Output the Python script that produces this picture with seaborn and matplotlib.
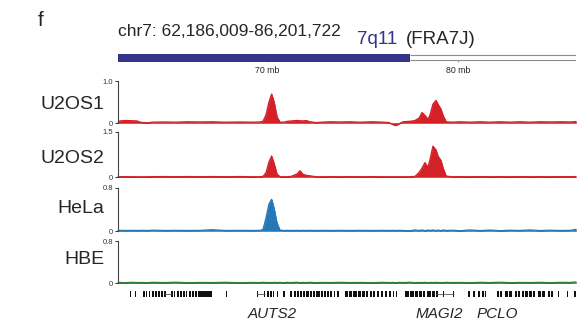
import matplotlib
matplotlib.use("Agg")
import numpy as np
import pandas as pd
import matplotlib.pyplot as plt
import seaborn as sns

# region shown (mb)
region_start = 62.186009
region_end = 86.201722
band_start = 62.186009
band_end = 77.5          # end of 7q11 band
ruler_ticks = [70, 80]
ruler_labels = ["70 mb", "80 mb"]

# sample positions along chr7 (mb)
pos_mb = [62.19, 62.29, 62.55, 62.92, 63.18, 63.39, 63.76, 63.97, 64.65, 65.17,
          65.86, 66.49, 67.11, 67.80, 68.58, 69.21, 69.63, 69.79, 69.95, 70.10,
          70.24, 70.37, 70.52, 70.68, 70.89, 71.05, 71.26, 71.57, 71.73, 71.89,
          72.04, 72.25, 72.57, 72.88, 73.30, 73.83, 74.35, 74.88, 75.50, 76.08,
          76.40, 76.61, 76.76, 76.92, 77.13, 77.50, 77.76, 77.97, 78.13, 78.28,
          78.44, 78.55, 78.70, 78.86, 78.96, 79.12, 79.23, 79.39, 79.70, 80.12,
          80.64, 81.17, 81.69, 82.22, 82.74, 83.26, 83.79, 84.31, 84.84, 85.36,
          85.89, 86.20]

u2os1 = [0.02, 0.05, 0.06, 0.055, 0.05, 0.015, 0.005, 0.02, 0.025, 0.02,
         0.03, 0.025, 0.03, 0.02, 0.025, 0.02, 0.025, 0.04, 0.2, 0.5,
         0.69, 0.5, 0.15, 0.02, 0.02, 0.04, 0.05, 0.06, 0.055, 0.05,
         0.06, 0.03, 0.01, 0.02, 0.03, 0.025, 0.03, 0.02, 0.03, 0.02,
         0.01, -0.04, -0.06, -0.02, 0.03, 0.04, 0.06, 0.12, 0.25, 0.18,
         0.09, 0.2, 0.45, 0.54, 0.45, 0.33, 0.18, 0.03, 0.02, 0.03,
         0.02, 0.03, 0.02, 0.03, 0.02, 0.03, 0.02, 0.03, 0.025, 0.03,
         0.025, 0.035]

u2os2 = [0.01, 0.01, 0.012, 0.01, 0.01, 0.008, 0.01, 0.012, 0.015, 0.01,
         0.015, 0.01, 0.015, 0.01, 0.015, 0.01, 0.01, 0.02, 0.15, 0.5,
         0.7, 0.45, 0.1, 0.01, 0.01, 0.01, 0.02, 0.1, 0.21, 0.09,
         0.06, 0.04, 0.01, 0.01, 0.012, 0.01, 0.012, 0.01, 0.012, 0.01,
         0.01, 0.01, 0.01, 0.01, 0.01, 0.01, 0.02, 0.15, 0.3, 0.48,
         0.32, 0.6, 1.03, 0.9, 0.7, 0.55, 0.3, 0.03, 0.01, 0.012,
         0.01, 0.012, 0.01, 0.012, 0.01, 0.012, 0.01, 0.012, 0.01, 0.012,
         0.01, 0.015]

hela = [0.01, 0.012, 0.01, 0.012, 0.01, 0.012, 0.01, 0.015, 0.01, 0.012,
        0.01, 0.012, 0.025, 0.01, 0.012, 0.01, 0.012, 0.03, 0.25, 0.5,
        0.59, 0.42, 0.15, 0.015, 0.01, 0.012, 0.01, 0.012, 0.01, 0.012,
        0.01, 0.012, 0.01, 0.012, 0.01, 0.012, 0.01, 0.012, 0.01, 0.012,
        0.01, 0.012, 0.01, 0.012, 0.01, 0.005, 0.02, 0.008, 0.02, 0.006,
        0.018, 0.01, 0.02, 0.008, 0.018, 0.006, 0.02, 0.01, 0.015, 0.005,
        0.02, 0.008, 0.018, 0.006, 0.015, 0.01, 0.02, 0.008, 0.015, 0.01,
        0.012, 0.03]

hbe = [0.008, 0.01, 0.006, 0.012, 0.008, 0.01, 0.006, 0.012, 0.008, 0.014,
       0.006, 0.01, 0.008, 0.012, 0.006, 0.01, 0.008, 0.012, 0.008, 0.01,
       0.006, 0.012, 0.008, 0.01, 0.006, 0.012, 0.008, 0.014, 0.006, 0.01,
       0.008, 0.012, 0.006, 0.01, 0.008, 0.012, 0.008, 0.01, 0.006, 0.012,
       0.008, 0.01, 0.006, 0.012, 0.008, 0.014, 0.006, 0.01, 0.008, 0.012,
       0.006, 0.01, 0.008, 0.012, 0.008, 0.01, 0.006, 0.012, 0.008, 0.01,
       0.006, 0.012, 0.008, 0.014, 0.006, 0.01, 0.008, 0.012, 0.006, 0.012,
       0.01, 0.02]

track_names = ["U2OS1", "U2OS2", "HeLa", "HBE"]
track_values = [u2os1, u2os2, hela, hbe]
track_ymax = [1.0, 1.5, 0.8, 0.8]
track_toplabels = ["1.0", "1.5", "0.8", "0.8"]
track_colors = ["#d42027", "#d42027", "#2478b8", "#2e7b3a"]

# RefSeq features (start mb, width mb)
gene_starts = [62.82, 63.08, 63.50, 63.65, 63.81, 63.97, 64.13, 64.28, 64.44, 64.60,
               64.97, 65.12, 65.28, 65.44, 65.59, 65.75, 65.91, 66.07, 66.22, 66.38,
               66.54, 66.75, 66.96, 67.85, 69.47, 69.84, 70.00, 70.16, 70.31, 70.52,
               70.84, 71.21, 71.42, 71.57, 71.73, 71.89, 72.04, 72.25, 72.41, 72.57,
               72.83, 72.99, 73.15, 73.30, 73.51, 73.67, 74.09, 74.30, 74.51, 74.77,
               74.98, 75.19, 75.40, 75.56, 75.77, 75.98, 76.19, 76.40, 76.61, 76.76,
               77.24, 77.50, 77.76, 77.97, 78.18, 78.39, 78.65, 78.86, 79.23, 79.75,
               80.54, 80.80, 81.06, 81.27, 81.43, 82.06, 82.22, 82.48, 82.69, 83.00,
               83.16, 83.37, 83.53, 83.74, 83.95, 84.21, 84.42, 84.73, 84.89, 85.26,
               85.73, 86.08, 86.15]
gene_widths = [0.05, 0.05, 0.08, 0.08, 0.08, 0.10, 0.08, 0.10, 0.08, 0.10,
               0.08, 0.08, 0.10, 0.08, 0.10, 0.08, 0.10, 0.08, 0.10, 0.16,
               0.20, 0.20, 0.16, 0.035, 0.05, 0.08, 0.08, 0.08, 0.08, 0.08,
               0.10, 0.10, 0.08, 0.10, 0.08, 0.10, 0.16, 0.10, 0.10, 0.20,
               0.10, 0.10, 0.08, 0.10, 0.08, 0.10, 0.16, 0.16, 0.20, 0.16,
               0.16, 0.10, 0.10, 0.10, 0.08, 0.10, 0.08, 0.08, 0.05, 0.05,
               0.20, 0.20, 0.16, 0.16, 0.10, 0.20, 0.16, 0.10, 0.05, 0.05,
               0.08, 0.08, 0.10, 0.10, 0.05, 0.08, 0.08, 0.16, 0.16, 0.10,
               0.10, 0.10, 0.16, 0.16, 0.10, 0.16, 0.16, 0.10, 0.08, 0.05,
               0.05, 0.07, 0.05]
intron_starts = [64.60, 69.47, 78.86]
intron_ends = [65.00, 69.90, 79.80]
gene_names = ["AUTS2", "MAGI2", "PCLO"]
gene_name_mb = [70.26, 79.04, 82.06]

sns.set_style("white")
plt.rcParams["font.family"] = ["Liberation Sans", "DejaVu Sans"]

fig = plt.figure(figsize=(5.82, 3.31), dpi=100)
W, H = 582.0, 331.0
left = 118 / W
width = 458 / W

# title texts
fig.text(41 / W, 1 - 21 / H, "f", fontsize=15, ha="center", va="center")
fig.text(118 / W, 1 - 31 / H, "chr7: 62,186,009-86,201,722", fontsize=12.5,
         ha="left", va="center")
fig.text(357 / W, 1 - 40 / H, "7q11", fontsize=13.5, color="#35338a",
         ha="left", va="center")
fig.text(406 / W, 1 - 40 / H, "(FRA7J)", fontsize=13.5, ha="left", va="center")

# ideogram / ruler
rax = fig.add_axes([left, 1 - 66 / H, width, 16 / H])
rax.set_xlim(region_start, region_end)
rax.set_ylim(0, 1)
rax.axis("off")
rax.hlines([0.375, 0.6875], band_end, region_end, color="#8c8c8c", lw=0.8)
rax.vlines(ruler_ticks, 0.25, 0.375, color="#8c8c8c", lw=0.6)
rax.broken_barh([(band_start, band_end - band_start)], (0.25, 0.5),
                facecolor="#35338a", edgecolor="none", zorder=3)
for t, lab in zip(ruler_ticks, ruler_labels):
    rax.text(t, -0.31, lab, fontsize=6.3, ha="center", va="center")

# signal tracks (top px, bottom px)
track_boxes = [(81, 123), (132, 177), (188, 231), (241, 283)]
label_y = [0.43, 0.42, 0.53, 0.55]

for name, vals, ymax, toplab, col, box, ly in zip(track_names, track_values, track_ymax,
                                                   track_toplabels, track_colors,
                                                   track_boxes, label_y):
    top, bot = box
    ax = fig.add_axes([left, 1 - bot / H, width, (bot - top) / H])
    df = pd.DataFrame({"pos": pos_mb, "signal": vals})
    ax.fill_between(df["pos"], 0, df["signal"], facecolor=col, edgecolor=col,
                    linewidth=0.4, clip_on=False)
    sns.lineplot(data=df, x="pos", y="signal", ax=ax, color=col, linewidth=0.9)
    for ln in ax.lines:
        ln.set_clip_on(False)
    ax.set_xlim(region_start, region_end)
    ax.set_ylim(0, ymax)
    ax.set_yticks([0, ymax])
    ax.set_yticklabels(["0", toplab])
    ax.set_xticks([])
    ax.set_xlabel("")
    ax.set_ylabel("")
    for s in ["top", "right", "bottom"]:
        ax.spines[s].set_visible(False)
    ax.spines["left"].set_color("#444444")
    ax.spines["left"].set_linewidth(0.8)
    ax.tick_params(axis="y", left=True, length=2.5, width=0.7, pad=1,
                   labelsize=5.5, colors="#333333")
    ax.patch.set_alpha(0)
    ax.text(-0.03, ly, name, transform=ax.transAxes, fontsize=14,
            ha="right", va="center")

# gene track
gax = fig.add_axes([left, 1 - 299 / H, width, 10 / H])
gax.set_xlim(region_start, region_end)
gax.set_ylim(0, 1)
gax.axis("off")
gax.hlines([0.5] * len(intron_starts), intron_starts, intron_ends, color="#555555", lw=0.6)
gax.broken_barh(list(zip(gene_starts, gene_widths)), (0.2, 0.6),
                facecolor="#111111", edgecolor="none")
for g, x in zip(gene_names, gene_name_mb):
    gax.text(x, -1.5, g, fontsize=11, style="italic", ha="center", va="center")

fig.savefig("out.png", dpi=100)
